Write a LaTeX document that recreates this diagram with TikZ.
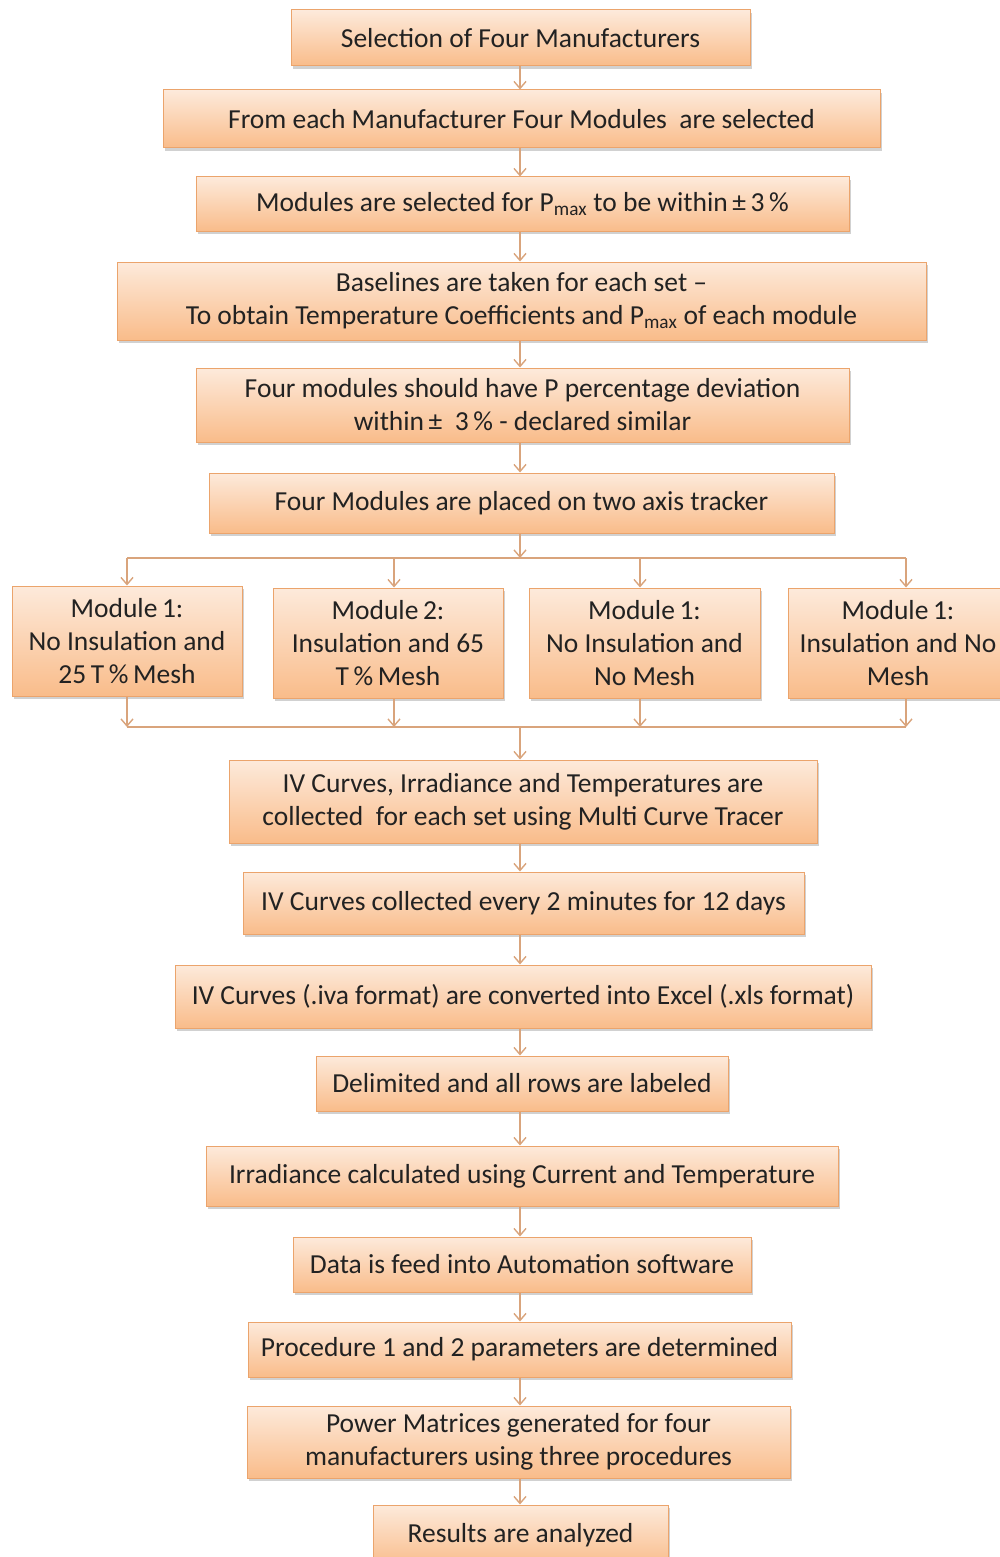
\documentclass[tikz,border=0pt]{standalone}
\usepackage{fontspec}
\setmainfont{Carlito}
\usetikzlibrary{arrows.meta,shadows}
\definecolor{boxtop}{HTML}{FDEADB}
\definecolor{boxbot}{HTML}{F9BC8A}
\definecolor{boxline}{HTML}{EBA46C}
\definecolor{arrcol}{HTML}{D9A47C}
\definecolor{txtcol}{HTML}{222222}
\tikzset{
  flowbox/.style={draw=boxline, line width=1pt, top color=boxtop, bottom color=boxbot,
    align=center, inner sep=0pt, text=txtcol,
    font=\fontsize{27.5}{33}\selectfont,
    drop shadow={shadow xshift=2pt, shadow yshift=-3pt, opacity=0.3, fill=black!60}},
  arr/.style={draw=arrcol, line width=1.4pt, -{Straight Barb[length=7pt,width=12pt,line width=1.4pt]}},
  busline/.style={draw=arrcol, line width=1.4pt}
}
\begin{document}
\begin{tikzpicture}[x=1pt,y=1pt]
\useasboundingbox (0,0) rectangle (1000,-1557);
\clip (0,0) rectangle (1000,-1557);
\node[flowbox, minimum width=459pt, minimum height=56pt] (b1) at (520.5,-38) {Selection of Four Manufacturers};
\node[flowbox, minimum width=717pt, minimum height=58pt] (b2) at (521.5,-119) {From each Manufacturer Four Modules\ \ are selected};
\node[flowbox, minimum width=653pt, minimum height=54pt] (b3) at (522.5,-204) {Modules are selected for P\textsubscript{max} to be within\,±\,3\,\%};
\node[flowbox, minimum width=809pt, minimum height=78pt] (b4) at (521.5,-301) {Baselines are taken for each set –\\To obtain Temperature Coefficients and P\textsubscript{max} of each module};
\node[flowbox, minimum width=653pt, minimum height=74pt] (b5) at (522.5,-405) {Four modules should have P percentage deviation\\within\,±\ \ 3\,\% - declared similar};
\node[flowbox, minimum width=625pt, minimum height=60pt] (b6) at (521.5,-503) {Four Modules are placed on two axis tracker};
\node[flowbox, minimum width=230pt, minimum height=110pt] (m1) at (127,-641) {Module\,1:\\No Insulation and\\25\,T\,\%\,Mesh};
\node[flowbox, minimum width=230pt, minimum height=110pt] (m2) at (388,-643) {Module\,2:\\Insulation and 65\\T\,\%\,Mesh};
\node[flowbox, minimum width=231pt, minimum height=110pt] (m3) at (644.5,-643) {Module\,1:\\No Insulation and\\No Mesh};
\node[flowbox, minimum width=220pt, minimum height=110pt] (m4) at (898,-643) {Module\,1:\\Insulation and No\\Mesh};
\node[flowbox, minimum width=588pt, minimum height=83pt] (b7) at (523,-801.5) {IV Curves, Irradiance and Temperatures are\\collected\ \ for each set using Multi Curve Tracer};
\node[flowbox, minimum width=561pt, minimum height=62pt] (b8) at (523.5,-903) {IV Curves collected every 2 minutes for 12 days};
\node[flowbox, minimum width=696pt, minimum height=63pt] (b9) at (523,-996.5) {IV Curves (.iva format) are converted into Excel (.xls format)};
\node[flowbox, minimum width=412pt, minimum height=55pt] (b10) at (522,-1083.5) {Delimited and all rows are labeled};
\node[flowbox, minimum width=632pt, minimum height=60pt] (b11) at (522,-1176) {Irradiance calculated using Current and Temperature};
\node[flowbox, minimum width=458pt, minimum height=55pt] (b12) at (522,-1264.5) {Data is feed into Automation software};
\node[flowbox, minimum width=543pt, minimum height=55pt] (b13) at (519.5,-1349.5) {Procedure 1 and 2 parameters are determined};
\node[flowbox, minimum width=543pt, minimum height=72pt] (b14) at (518.5,-1442) {Power Matrices generated for four\\manufacturers using three procedures};
\node[flowbox, minimum width=295pt, minimum height=62pt, text depth=0pt] (b15) at (520.5,-1536) {\raisebox{6pt}{Results are analyzed}};
% spine and buses
\coordinate (sp) at (520,0);
\coordinate (ta) at (520,-558);
\coordinate (t1) at (127,-558);
\coordinate (t2) at (394,-558);
\coordinate (t3) at (640,-558);
\coordinate (t4) at (906,-558);
\coordinate (ba) at (520,-727);
\coordinate (u1) at (127,-727);
\coordinate (u2) at (394,-727);
\coordinate (u3) at (640,-727);
\coordinate (u4) at (906,-727);
\draw[arr] (b1.south -| sp) -- (b2.north -| sp);
\draw[arr] (b2.south -| sp) -- (b3.north -| sp);
\draw[arr] (b3.south -| sp) -- (b4.north -| sp);
\draw[arr] (b4.south -| sp) -- (b5.north -| sp);
\draw[arr] (b5.south -| sp) -- (b6.north -| sp);
\draw[arr] (b6.south -| sp) -- (ta);
\draw[busline] (t1) -- (t4);
\draw[arr] (t1) -- (m1.north -| t1);
\draw[arr] (t2) -- (m2.north -| t2);
\draw[arr] (t3) -- (m3.north -| t3);
\draw[arr] (t4) -- (m4.north -| t4);
\draw[arr] (m1.south -| u1) -- (u1);
\draw[arr] (m2.south -| u2) -- (u2);
\draw[arr] (m3.south -| u3) -- (u3);
\draw[arr] (m4.south -| u4) -- (u4);
\draw[busline] (u1) -- (u4);
\draw[arr] (ba) -- (b7.north -| sp);
\draw[arr] (b7.south -| sp) -- (b8.north -| sp);
\draw[arr] (b8.south -| sp) -- (b9.north -| sp);
\draw[arr] (b9.south -| sp) -- (b10.north -| sp);
\draw[arr] (b10.south -| sp) -- (b11.north -| sp);
\draw[arr] (b11.south -| sp) -- (b12.north -| sp);
\draw[arr] (b12.south -| sp) -- (b13.north -| sp);
\draw[arr] (b13.south -| sp) -- (b14.north -| sp);
\draw[arr] (b14.south -| sp) -- (b15.north -| sp);
\end{tikzpicture}
\end{document}
